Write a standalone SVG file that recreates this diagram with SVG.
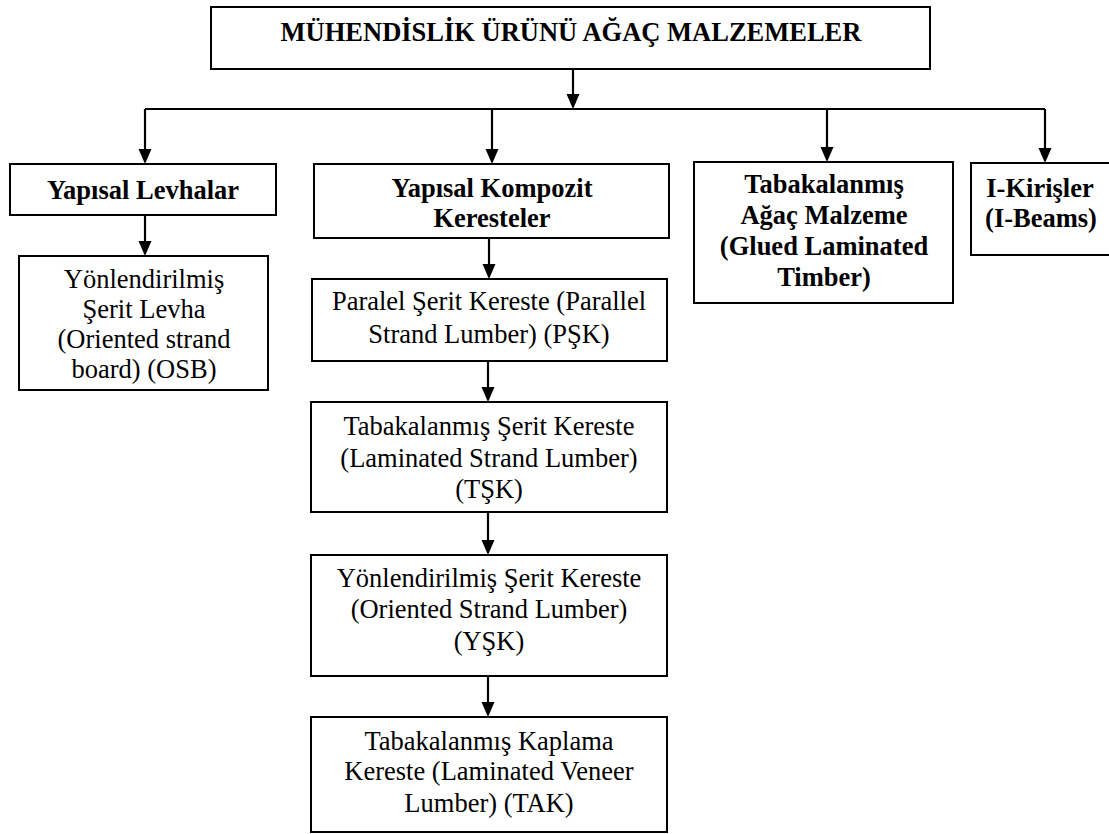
<svg xmlns="http://www.w3.org/2000/svg" width="1109" height="834" viewBox="0 0 1109 834">
<style>
.box{fill:#fff;stroke:#000;stroke-width:2}
.c{fill:none;stroke:#000;stroke-width:2.2}
</style>
<defs>
<marker id="ah" markerUnits="userSpaceOnUse" markerWidth="16" markerHeight="14" refX="3" refY="6.5" orient="auto">
<path d="M0,0 L15,6.5 L0,13 z" fill="#000"/>
</marker>
</defs>
<rect width="1109" height="834" fill="#fff"/>
<g id="connectors">
<line class="c" x1="573" y1="69" x2="573" y2="97" marker-end="url(#ah)"/>
<path class="c" d="M145,109 H1045"/>
<line class="c" x1="145" y1="109" x2="145" y2="152" marker-end="url(#ah)"/>
<line class="c" x1="492" y1="109" x2="492" y2="152" marker-end="url(#ah)"/>
<line class="c" x1="827" y1="109" x2="827" y2="150" marker-end="url(#ah)"/>
<line class="c" x1="1045" y1="109" x2="1045" y2="151" marker-end="url(#ah)"/>
<line class="c" x1="145" y1="215" x2="145" y2="244" marker-end="url(#ah)"/>
<line class="c" x1="489" y1="238" x2="489" y2="267" marker-end="url(#ah)"/>
<line class="c" x1="488" y1="361" x2="488" y2="390" marker-end="url(#ah)"/>
<line class="c" x1="488" y1="512" x2="488" y2="543" marker-end="url(#ah)"/>
<line class="c" x1="488" y1="676" x2="488" y2="705" marker-end="url(#ah)"/>
</g>
<g font-family="Liberation Serif" font-size="26.5" text-anchor="middle" fill="#000">
<g id="root">
<rect class="box" x="211" y="7" width="719" height="62"/>
<text font-weight="bold" x="571" y="41">MÜHENDİSLİK ÜRÜNÜ AĞAÇ MALZEMELER</text>
</g>
<g id="levhalar">
<rect class="box" x="10" y="164" width="266" height="51"/>
<text font-weight="bold" x="143" y="199">Yapısal Levhalar</text>
</g>
<g id="kompozit">
<rect class="box" x="314" y="164" width="355" height="74"/>
<text font-weight="bold" x="492" y="197">Yapısal Kompozit</text>
<text font-weight="bold" x="492" y="227">Keresteler</text>
</g>
<g id="glulam">
<rect class="box" x="694" y="162" width="259" height="141"/>
<text font-weight="bold" x="824" y="193">Tabakalanmış</text>
<text font-weight="bold" x="824" y="224">Ağaç Malzeme</text>
<text font-weight="bold" x="824" y="255">(Glued Laminated</text>
<text font-weight="bold" x="824" y="286">Timber)</text>
</g>
<g id="ibeams">
<rect class="box" x="971" y="163" width="150" height="92"/>
<text font-weight="bold" x="1040" y="197">I-Kirişler</text>
<text font-weight="bold" x="1041" y="227">(I-Beams)</text>
</g>
<g id="osb">
<rect class="box" x="19" y="256" width="249" height="134"/>
<text x="144" y="288">Yönlendirilmiş</text>
<text x="144" y="318">Şerit Levha</text>
<text x="144" y="348">(Oriented strand</text>
<text x="144" y="378">board) (OSB)</text>
</g>
<g id="psk">
<rect class="box" x="312" y="279" width="355" height="82"/>
<text x="489" y="310">Paralel Şerit Kereste (Parallel</text>
<text x="489" y="343">Strand Lumber) (PŞK)</text>
</g>
<g id="tsk">
<rect class="box" x="311" y="402" width="356" height="110"/>
<text x="489" y="435">Tabakalanmış Şerit Kereste</text>
<text x="489" y="467">(Laminated Strand Lumber)</text>
<text x="489" y="498">(TŞK)</text>
</g>
<g id="ysk">
<rect class="box" x="311" y="555" width="356" height="121"/>
<text x="489" y="587">Yönlendirilmiş Şerit Kereste</text>
<text x="489" y="618">(Oriented Strand Lumber)</text>
<text x="489" y="650">(YŞK)</text>
</g>
<g id="tak">
<rect class="box" x="311" y="717" width="356" height="115"/>
<text x="489" y="750">Tabakalanmış Kaplama</text>
<text x="489" y="780">Kereste (Laminated Veneer</text>
<text x="489" y="812">Lumber) (TAK)</text>
</g>
</g>
</svg>
